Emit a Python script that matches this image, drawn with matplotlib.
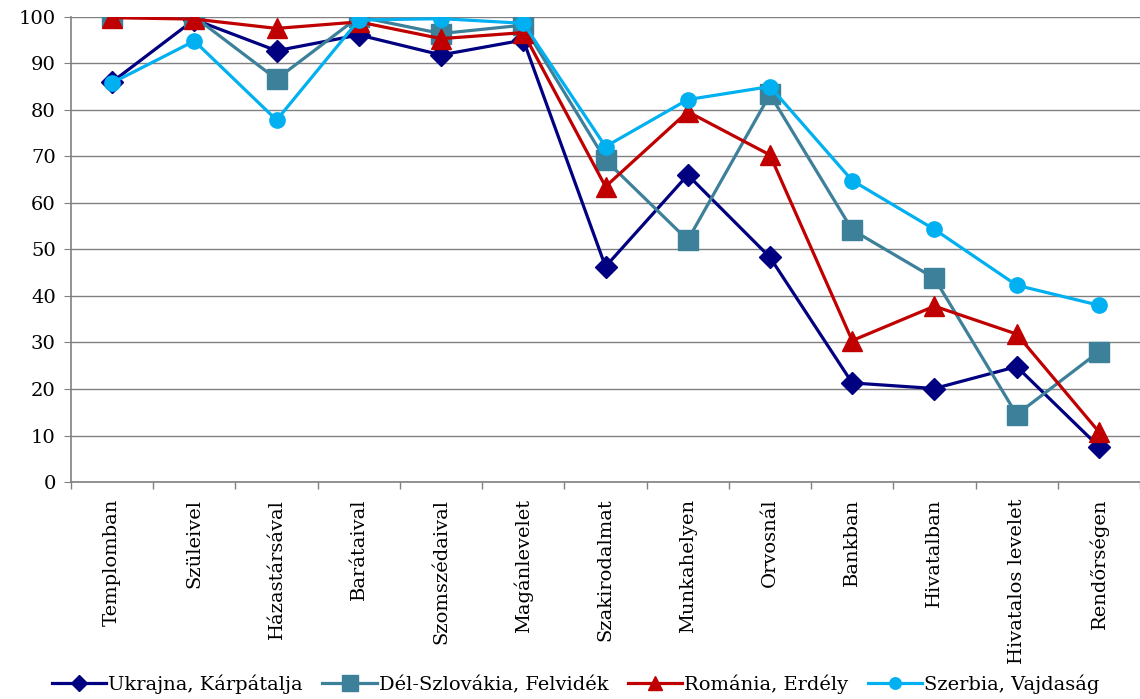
import matplotlib.pyplot as plt
import numpy as np

plt.rcParams['font.family'] = ['DejaVu Serif']

# kategóriák
categories = ['Templomban', 'Szüleivel', 'Házastársával', 'Barátaival', 'Szomszédaival',
              'Magánlevelet', 'Szakirodalmat', 'Munkahelyen', 'Orvosnál', 'Bankban',
              'Hivatalban', 'Hivatalos levelet', 'Rendőrségen']

ukrajna = [86.0, 99.4, 92.7, 96.1, 91.8, 95.0, 46.3, 66.0, 48.3, 21.3, 20.1, 24.8, 7.6]
szlovakia = [100, 100, 86.6, 100, 96.4, 98.2, 69.2, 52.0, 83.3, 54.2, 43.8, 14.5, 28.0]
romania = [99.8, 99.5, 97.5, 98.9, 95.3, 96.6, 63.5, 79.6, 70.3, 30.4, 37.8, 31.8, 10.8]
szerbia = [85.8, 94.8, 77.8, 99.3, 99.6, 98.6, 72.1, 82.2, 85.0, 64.8, 54.3, 42.3, 38.0]

series_names = ['Ukrajna, Kárpátalja', 'Dél-Szlovákia, Felvidék', 'Románia, Erdély', 'Szerbia, Vajdaság']
y_ticks = list(range(0, 101, 10))

fig = plt.figure(figsize=(11.4, 6.99), dpi=100)
ax = fig.add_axes([0.0623, 0.3104, 0.9377, 0.6656])

x = np.arange(len(categories))
ax.plot(x, ukrajna, color='#000080', lw=2.3, marker='D', ms=11, label=series_names[0], zorder=3)
ax.plot(x, szlovakia, color='#3D8099', lw=2.3, marker='s', ms=15, label=series_names[1], zorder=3)
ax.plot(x, romania, color='#C00000', lw=2.3, marker='^', ms=14, label=series_names[2], zorder=4)
ax.plot(x, szerbia, color='#00B0F0', lw=2.3, marker='o', ms=11, label=series_names[3], zorder=5)

ax.set_xlim(-0.5, len(categories) - 0.5)
ax.set_ylim(0, 100)
ax.set_yticks(y_ticks)
ax.tick_params(axis='y', labelsize=14, length=5, color='#808080', pad=6)

ax.set_xticks(x)
ax.set_xticklabels(categories, rotation=90, fontsize=14)
ax.tick_params(axis='x', which='major', length=0, pad=12)
ax.set_xticks(np.arange(-0.5, len(categories)), minor=True)
ax.tick_params(axis='x', which='minor', length=5, color='#808080', width=1)

ax.grid(axis='y', color='#808080', lw=1)
ax.set_axisbelow(True)
for s in ['top', 'right']:
    ax.spines[s].set_visible(False)
for s in ['left', 'bottom']:
    ax.spines[s].set_color('#808080')
    ax.spines[s].set_linewidth(1.2)

fig.legend(loc='lower center', bbox_to_anchor=(0.505, -0.018), ncol=4, frameon=False,
           fontsize=14, handlelength=2.8, handletextpad=0.1, columnspacing=1.0, markerscale=0.75)

fig.savefig('out.png', dpi=100)
